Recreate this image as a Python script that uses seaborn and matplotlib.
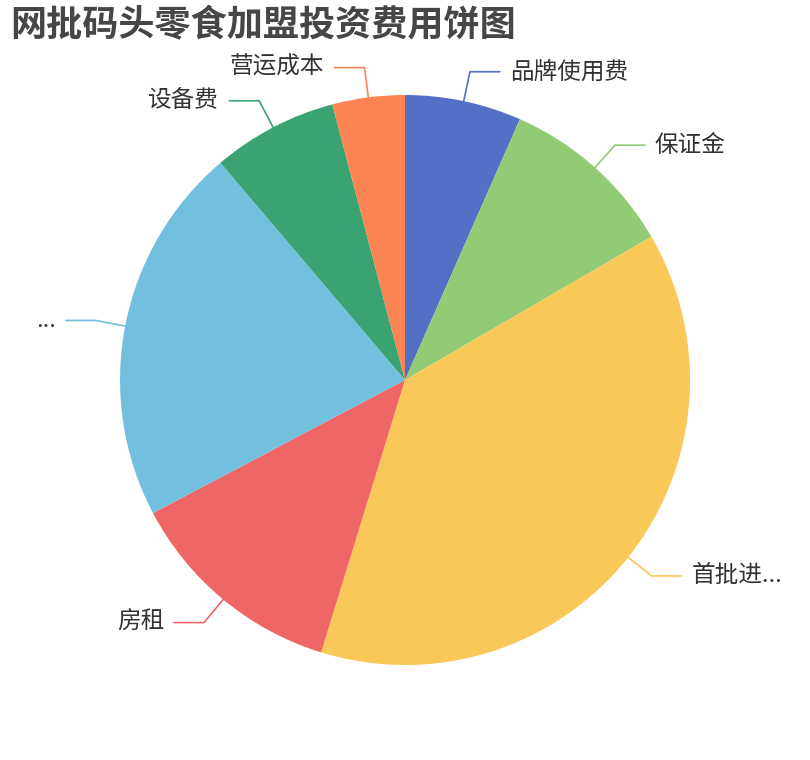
import numpy as np
import matplotlib
matplotlib.use("Agg")
import matplotlib.pyplot as plt
import seaborn as sns

# ---- data ----
title = "网批码头零食加盟投资费用饼图"
labels = ["品牌使用费", "保证金", "首批进...", "房租", "...", "设备费", "营运成本"]
values = [6.6, 10.0, 38.1, 12.5, 21.5, 7.1, 4.1]
colors = ["#5470c6", "#91cc75", "#fac858", "#ee6666", "#73c0de", "#3ba272", "#fc8452"]

sns.set_theme(style="white")
plt.rcParams['font.family'] = ['Noto Sans CJK SC', 'DejaVu Sans']

W, H = 810, 760
fig = plt.figure(figsize=(W / 100, H / 100), dpi=100)
ax = fig.add_axes([0, 0, 1, 1])

cx, cy, R = 405, 380, 285
pal = sns.color_palette(colors)
wedges, _ = ax.pie(values, colors=pal, startangle=90, counterclock=False,
                   radius=R, center=(cx, cy), frame=True,
                   wedgeprops=dict(linewidth=0))
ax.set_xlim(0, W)
ax.set_ylim(0, H)
ax.set_aspect('equal')
ax.axis('off')

L1, L2, gap = 30, 30, 10
for w, lab, col in zip(wedges, labels, pal):
    mid = np.deg2rad((w.theta1 + w.theta2) / 2)
    c, s = np.cos(mid), np.sin(mid)
    p0 = (cx + R * c, cy + R * s)
    p1 = (cx + (R + L1) * c, cy + (R + L1) * s)
    sign = 1 if c >= 0 else -1
    p2 = (p1[0] + sign * L2, p1[1])
    ax.plot([p0[0], p1[0], p2[0]], [p0[1], p1[1], p2[1]], color=col, lw=1.2,
            solid_joinstyle='miter')
    ax.text(p2[0] + sign * gap, p2[1], lab, ha='left' if sign > 0 else 'right',
            va='center', fontsize=17, color='#333333')

fig.text(10 / W, 1 - 26 / H, title, fontsize=26, fontweight='bold',
         color='#464646', ha='left', va='center')

fig.savefig("out.png", dpi=100)
